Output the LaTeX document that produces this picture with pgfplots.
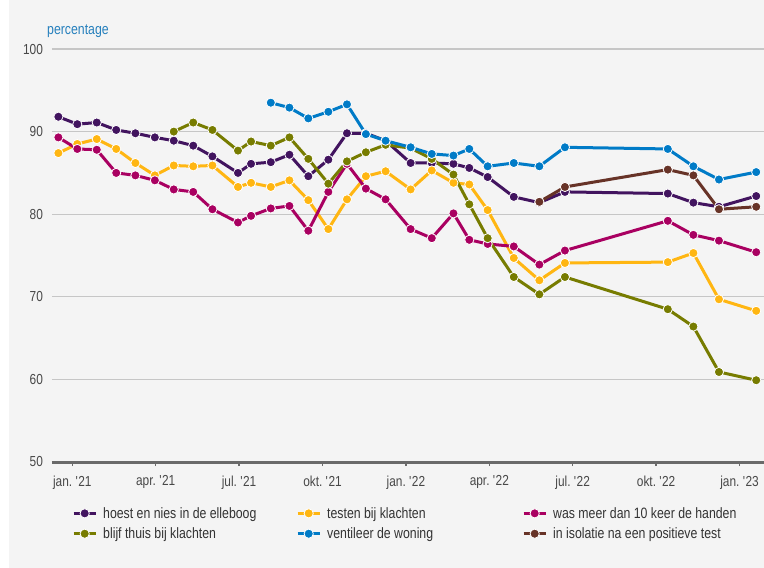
\documentclass[border=0pt]{standalone}
\usepackage{fontspec}
\setmainfont{Liberation Sans}[FakeStretch=0.82]
\usepackage{pgfplots}
\pgfplotsset{compat=1.18}
\definecolor{cpur}{HTML}{42145F}
\definecolor{cyel}{HTML}{FFB612}
\definecolor{cmag}{HTML}{A90061}
\definecolor{cgrn}{HTML}{777C00}
\definecolor{cblu}{HTML}{007BC7}
\definecolor{cbrn}{HTML}{673327}
\definecolor{bgc}{HTML}{F4F4F4}
\definecolor{gridc}{HTML}{C6C6C6}
\definecolor{axc}{HTML}{6A6A6A}
\definecolor{tickc}{HTML}{484848}
\definecolor{txtc}{HTML}{333333}
\definecolor{lblue}{HTML}{2680BD}
\begin{document}
\frenchspacing
\begin{tikzpicture}[x=1pt,y=1pt]
\fill[white] (0,0) rectangle (764,-568);
\fill[bgc] (9,0) rectangle (764,-568);
\path[use as bounding box] (0,0) rectangle (764,-568);
\node[anchor=west, text=lblue, font=\fontsize{15}{17}\selectfont, inner sep=0pt] at (47,-31) {percentage};
\begin{axis}[
  at={(52pt,-462pt)}, anchor=south west,
  scale only axis, width=712pt, height=413pt,
  xmin=-0.73, xmax=24.88, ymin=50, ymax=100,
  /pgf/number format/assume math mode=true,
  ytick={50,60,70,80,90,100},
  xtick={0,3,6,9,12,15,18,21,24},
  xticklabels={jan. \textquotesingle21,apr. \textquotesingle21,jul. \textquotesingle21,okt. \textquotesingle21,jan. \textquotesingle22,apr. \textquotesingle22,jul. \textquotesingle22,okt. \textquotesingle22,jan. \textquotesingle23},
  ymajorgrids, grid style={color=gridc, line width=1.3pt},
  axis x line=bottom, axis y line=left,
  x axis line style={draw=axc, line width=3pt, -},
  y axis line style={draw=none},
  ytick style={draw=none},
  xtick style={draw=axc, line width=1.5pt},
  tick align=outside, major tick length=4pt,
  ticklabel style={font=\fontsize{14.5}{16}\selectfont, text=tickc},
  yticklabel style={xshift=-1.5pt},
  xticklabel style={yshift=-6pt},
  every axis plot/.append style={line width=3pt, mark=*, mark size=4.6pt},
  legend columns=3, legend cell align=left,
  legend style={at={(axis description cs:0.0281,-0.104)}, anchor=north west, draw=none, fill=none, inner sep=0pt,
    font=\fontsize{15}{17}\selectfont, text=txtc, row sep=4pt,
    /tikz/every odd column/.append style={column sep=4pt}},
  legend image code/.code={\draw[mark repeat=2,mark phase=2] plot coordinates {(0pt,0pt) (11pt,0pt) (22pt,0pt)};},
]
\addplot[cpur, mark options={draw=white, line width=0.8pt, fill=cpur}] coordinates {(-0.50,91.8)(0.18,90.9)(0.88,91.1)(1.58,90.2)(2.27,89.8)(2.97,89.3)(3.65,88.9)(4.35,88.3)(5.04,87.0)(5.96,85.0)(6.43,86.1)(7.14,86.3)(7.81,87.2)(8.49,84.6)(9.21,86.6)(9.88,89.8)(10.56,89.8)(11.27,88.9)(12.17,86.2)(12.93,86.2)(13.71,86.1)(14.28,85.6)(14.94,84.5)(15.88,82.1)(16.80,81.4)(17.72,82.7)(21.42,82.5)(22.34,81.4)(23.26,80.9)(24.60,82.2)};
\addlegendentry{\makebox[191pt][l]{hoest en nies in de elleboog}}
\addplot[cyel, mark options={draw=white, line width=0.8pt, fill=cyel}] coordinates {(-0.50,87.4)(0.18,88.5)(0.88,89.1)(1.58,87.9)(2.27,86.2)(2.97,84.7)(3.65,85.9)(4.35,85.8)(5.04,85.9)(5.96,83.3)(6.43,83.8)(7.14,83.3)(7.81,84.1)(8.49,81.7)(9.21,78.2)(9.88,81.8)(10.56,84.6)(11.27,85.2)(12.17,83.0)(12.93,85.3)(13.71,83.8)(14.28,83.6)(14.94,80.5)(15.88,74.7)(16.80,72.0)(17.72,74.1)(21.42,74.2)(22.34,75.3)(23.26,69.7)(24.60,68.3)};
\addlegendentry{\makebox[193pt][l]{testen bij klachten}}
\addplot[cmag, mark options={draw=white, line width=0.8pt, fill=cmag}] coordinates {(-0.50,89.3)(0.18,87.9)(0.88,87.8)(1.58,85.0)(2.27,84.7)(2.97,84.1)(3.65,83.0)(4.35,82.7)(5.04,80.6)(5.96,79.0)(6.43,79.8)(7.14,80.7)(7.81,81.0)(8.49,78.0)(9.21,82.7)(9.88,86.1)(10.56,83.1)(11.27,81.8)(12.17,78.2)(12.93,77.1)(13.71,80.1)(14.28,76.9)(14.94,76.4)(15.88,76.1)(16.80,73.9)(17.72,75.6)(21.42,79.2)(22.34,77.5)(23.26,76.8)(24.60,75.4)};
\addlegendentry{was meer dan 10 keer de handen}
\addplot[cgrn, mark options={draw=white, line width=0.8pt, fill=cgrn}] coordinates {(3.65,90.0)(4.35,91.1)(5.04,90.2)(5.96,87.7)(6.43,88.8)(7.14,88.3)(7.81,89.3)(8.49,86.7)(9.21,83.7)(9.88,86.4)(10.56,87.5)(11.27,88.4)(12.17,88.0)(12.93,86.7)(13.71,84.8)(14.28,81.2)(14.94,77.1)(15.88,72.4)(16.80,70.3)(17.72,72.4)(21.42,68.5)(22.34,66.4)(23.26,60.9)(24.60,59.9)};
\addlegendentry{\makebox[191pt][l]{blijf thuis bij klachten}}
\addplot[cblu, mark options={draw=white, line width=0.8pt, fill=cblu}] coordinates {(7.14,93.5)(7.81,92.9)(8.49,91.6)(9.21,92.4)(9.88,93.3)(10.56,89.7)(11.27,88.9)(12.17,88.1)(12.93,87.3)(13.71,87.1)(14.28,87.9)(14.94,85.8)(15.88,86.2)(16.80,85.8)(17.72,88.1)(21.42,87.9)(22.34,85.8)(23.26,84.2)(24.60,85.1)};
\addlegendentry{\makebox[193pt][l]{ventileer de woning}}
\addplot[cbrn, mark options={draw=white, line width=0.8pt, fill=cbrn}] coordinates {(16.80,81.5)(17.72,83.3)(21.42,85.4)(22.34,84.7)(23.26,80.6)(24.60,80.9)};
\addlegendentry{in isolatie na een positieve test}
\end{axis}
\end{tikzpicture}
\end{document}
